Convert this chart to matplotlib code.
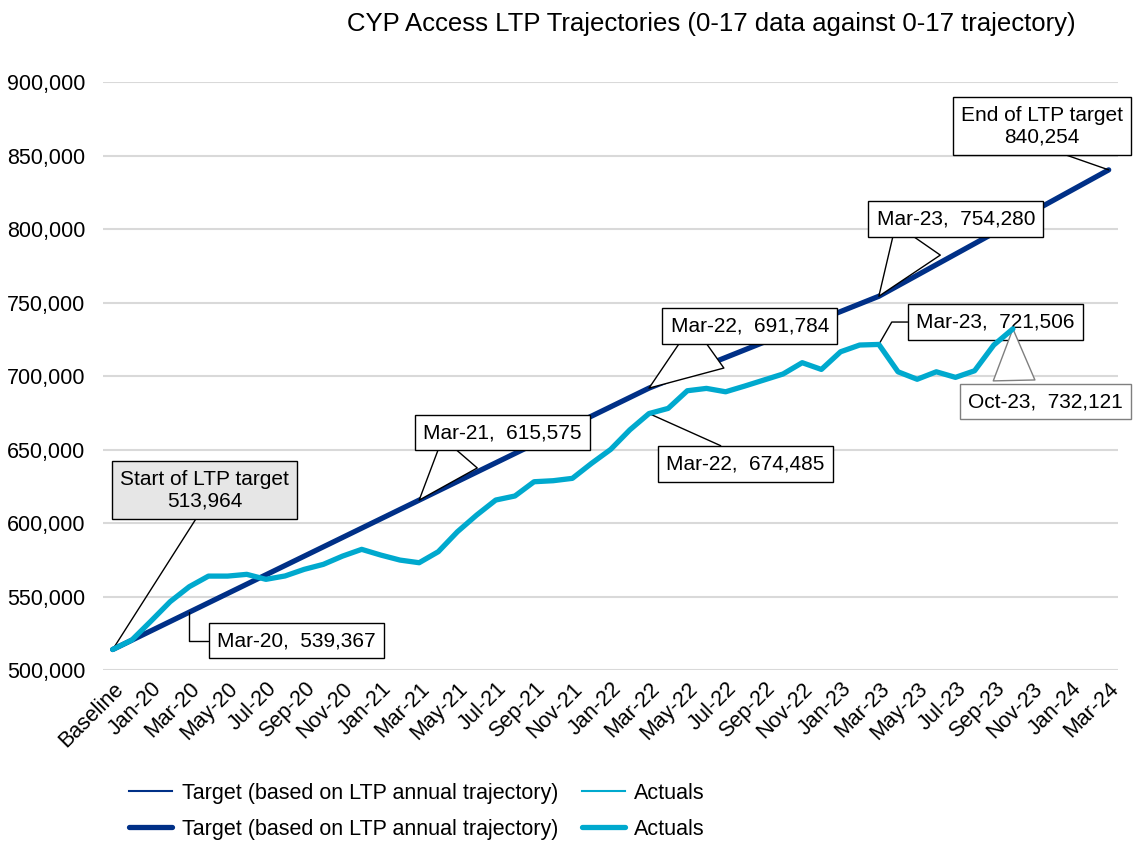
import numpy as np
import matplotlib
matplotlib.use('Agg')
from matplotlib import pyplot as plt
from matplotlib.ticker import FuncFormatter

plt.rcParams['font.family'] = ['Liberation Sans', 'DejaVu Sans']

# category axis: Baseline, Dec-19 ... Mar-24
months = ['Baseline', 'Dec-19']
for yr in range(20, 25):
    for m in ['Jan', 'Feb', 'Mar', 'Apr', 'May', 'Jun', 'Jul', 'Aug', 'Sep', 'Oct', 'Nov', 'Dec']:
        months.append(f'{m}-{yr}')
months = months[:months.index('Mar-24') + 1]

# target (based on LTP annual trajectory)
target = [513964, 520315, 526666, 533016, 539367, 545718, 552069, 558419, 564770,
          571121, 577471, 583822, 590173, 596524, 602874, 609225, 615575, 621926,
          628277, 634627, 640978, 647329, 653680, 660030, 666381, 672732, 679082,
          685433, 691784, 696992, 702200, 707408, 712616, 717824, 723032, 728240,
          733448, 738656, 743864, 749072, 754280, 761445, 768609, 775774, 782938,
          790103, 797267, 804432, 811596, 818761, 825925, 833090, 840254]

# actuals, Baseline .. Oct-23
actuals = [513964, 520400, 533300, 546500, 556700, 563900, 563900, 565100, 561700,
           564000, 568500, 571900, 577500, 582100, 578200, 574800, 573000, 580500,
           594100, 605400, 615650, 618400, 628100, 628800, 630400, 640600, 650100,
           663400, 674485, 678000, 690000, 691600, 689300, 693200, 697300, 701400,
           709100, 704500, 716500, 721100, 721506, 702900, 697800, 702900, 699100,
           703600, 721100, 732121]

navy = '#003087'
aqua = '#00A9CE'

x_t = np.arange(len(target))
x_a = np.arange(len(actuals))

fig = plt.figure(figsize=(11.33, 8.46), dpi=100)
ax = fig.add_axes([0.091, 0.208, 0.896, 0.695])

l1, = ax.plot(x_t, target, color=navy, lw=1.5, zorder=2)
l2, = ax.plot(x_a, actuals, color=aqua, lw=1.5, zorder=2)
l3, = ax.plot(x_t, target, color=navy, lw=3.8, zorder=3, solid_capstyle='round')
l4, = ax.plot(x_a, actuals, color=aqua, lw=3.8, zorder=4, solid_capstyle='round')

ax.set_xlim(-0.5, len(months) - 0.5)
ax.set_ylim(500000, 900000)
ax.set_yticks(np.arange(500000, 900001, 50000))
ax.yaxis.set_major_formatter(FuncFormatter(lambda v, p: f'{int(v):,}'))
ax.set_xticks(x_t[::2])
ax.set_xticklabels(months[::2], rotation=45, ha='right', rotation_mode='anchor')
ax.tick_params(length=0, labelsize=15.5, colors='#000000')
ax.tick_params(axis='x', pad=6)
ax.tick_params(axis='y', pad=13)
ax.grid(axis='y', color='#d9d9d9', lw=1.5)
ax.set_axisbelow(True)
for s in ax.spines.values():
    s.set_visible(False)

fig.text(0.628, 0.972, 'CYP Access LTP Trajectories (0-17 data against 0-17 trajectory)',
         ha='center', va='center', fontsize=18.5)

box = dict(boxstyle='square,pad=0.4', fc='white', ec='black', lw=1)
gbox = dict(boxstyle='square,pad=0.4', fc='#e6e6e6', ec='black', lw=1)
obox = dict(boxstyle='square,pad=0.4', fc='white', ec='#7f7f7f', lw=1)


def wedge(ec='black', rp=(0.3, 0), tw=2.6):
    return dict(arrowstyle=f'wedge,tail_width={tw},shrink_factor=0.5', fc='white', ec=ec,
                lw=1, relpos=rp, shrinkB=0)


def line(rp, cs='arc3'):
    return dict(arrowstyle='-', color='black', lw=1, relpos=rp, connectionstyle=cs,
                shrinkA=0, shrinkB=0)


fs = 15
ax.annotate('Start of LTP target\n513,964', xy=(0, target[0]), xytext=(4.8, 622450),
            ha='center', va='center', fontsize=fs, bbox=gbox, linespacing=1.2,
            arrowprops=line((0.48, 0)))
ax.annotate('Mar-20,  539,367', xy=(4, target[4]), xytext=(9.6, 520070),
            ha='center', va='center', fontsize=fs, bbox=box,
            arrowprops=line((0, 0.5), 'angle,angleA=0,angleB=90,rad=0'))
ax.annotate('Mar-21,  615,575', xy=(16, target[16]), xytext=(20.36, 661570),
            ha='center', va='center', fontsize=fs, bbox=box, arrowprops=wedge(rp=(0.29, 0), tw=2.2))
ax.annotate('Mar-22,  691,784', xy=(28, target[28]), xytext=(33.26, 734020),
            ha='center', va='center', fontsize=fs, bbox=box, arrowprops=wedge(rp=(0.33, 0)))
ax.annotate('Mar-22,  674,485', xy=(28, actuals[28]), xytext=(33.02, 640140),
            ha='center', va='center', fontsize=fs, bbox=box,
            arrowprops=line((0.47, 1)))
ax.annotate('Mar-23,  754,280', xy=(40, target[40]), xytext=(44.02, 806800),
            ha='center', va='center', fontsize=fs, bbox=box, arrowprops=wedge(rp=(0.31, 0)))
ax.annotate('End of LTP target\n840,254', xy=(52, target[52]), xytext=(48.51, 870080),
            ha='center', va='center', fontsize=fs, bbox=box, linespacing=1.2,
            arrowprops=line((0.5, 0)))
ax.annotate('Mar-23,  721,506', xy=(40, actuals[40]), xytext=(46.1, 736740),
            ha='center', va='center', fontsize=fs, bbox=box,
            arrowprops=line((0, 0.5), 'angle,angleA=0,angleB=60,rad=0'))
ax.annotate('Oct-23,  732,121', xy=(47, actuals[47]), xytext=(48.69, 682660),
            ha='center', va='center', fontsize=fs, bbox=obox,
            arrowprops=wedge('#7f7f7f', (0.3, 1), tw=2.0))

fig.legend([l1, l3, l2, l4],
           ['Target (based on LTP annual trajectory)', 'Target (based on LTP annual trajectory)',
            'Actuals', 'Actuals'],
           ncol=2, loc='center', bbox_to_anchor=(0.368, 0.041), frameon=False,
           fontsize=15.5, handlelength=2.0, handletextpad=0.45, columnspacing=1.1,
           labelspacing=0.7)

fig.savefig('out.png', dpi=100)
